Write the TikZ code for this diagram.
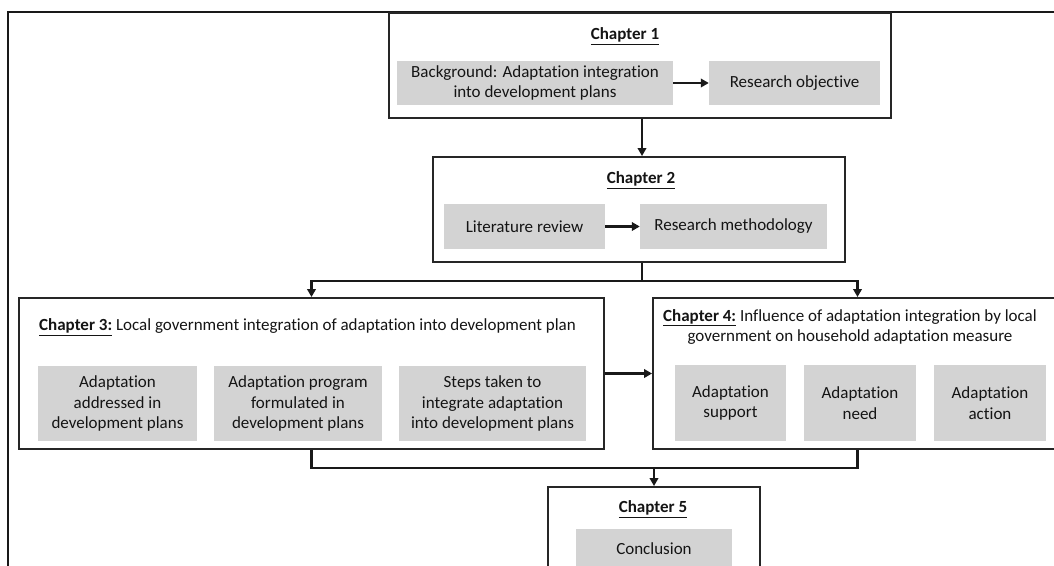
\documentclass[tikz,border=0pt]{standalone}
\usepackage{fontspec}
\setmainfont[Ligatures={NoCommon}]{Carlito}
\usetikzlibrary{arrows.meta}
\definecolor{boxgray}{HTML}{D3D3D3}
\definecolor{txt}{HTML}{141414}
\begin{document}
\begin{tikzpicture}[x=1pt,y=-1pt,
  every node/.style={font=\fontsize{17}{20.5}\selectfont, text=txt},
  chapbox/.style={draw=black!85, line width=1.9pt, inner sep=0pt, anchor=center},
  graybox/.style={fill=boxgray, inner sep=0pt, align=center, anchor=center},
  ttl/.style={font=\fontsize{17}{20.5}\selectfont\bfseries},
  conn/.style={line width=2.4pt, black!90},
  arr/.style={conn, -{Triangle[length=8pt,width=8.5pt]}}]
\useasboundingbox (0,0) rectangle (1054,565);
\clip (0,0) rectangle (1054,565);
% outer frame
\draw[line width=2.6pt, black!90] (8,12) rectangle (1080,600);
% chapter boxes
\node[chapbox, minimum width=502pt, minimum height=105pt] (ch1) at (640,65.5) {};
\node[chapbox, minimum width=412pt, minimum height=105pt] (ch2) at (639,209.5) {};
\node[chapbox, minimum width=585pt, minimum height=151pt] (ch3) at (311.5,373.5) {};
\node[chapbox, minimum width=409pt, minimum height=151pt] (ch4) at (857.5,373.5) {};
\node[chapbox, minimum width=212pt, minimum height=100pt] (ch5) at (654,537) {};
% chapter 1
\node[ttl] (t1) at (625,36) {\underline{Chapter 1}};
\node[graybox, minimum width=276pt, minimum height=44pt] (bg) at (535,83) {Background: Adaptation integration\\into development plans};
\node[graybox, minimum width=171pt, minimum height=44pt] (ro) at (794.5,83) {Research objective};
% chapter 2
\node[ttl] (t2) at (641,180) {\underline{Chapter 2}};
\node[graybox, minimum width=161pt, minimum height=45pt] (lr) at (524.5,226.5) {Literature review};
\node[graybox, minimum width=187pt, minimum height=45pt] (rm) at (733.5,226.5) {Research methodology};
% chapter 3
\node[anchor=west, inner sep=0pt] (t3) at (39,327) {\textbf{\underline{Chapter 3:}} Local government integration of adaptation into development plan};
\node[graybox, minimum width=159pt, minimum height=75pt] (a1) at (117.5,403.5) {Adaptation\\addressed in\\development plans};
\node[graybox, minimum width=168pt, minimum height=75pt] (a2) at (298,403.5) {Adaptation program\\formulated in\\development plans};
\node[graybox, minimum width=187pt, minimum height=75pt] (a3) at (492.5,403.5) {Steps taken to\\integrate adaptation\\into development plans};
% chapter 4
\node[align=center, inner sep=0pt] (t4) at (850,327) {\textbf{\underline{Chapter 4:}} Influence of adaptation integration by local\\government on household adaptation measure};
\node[graybox, minimum width=111pt, minimum height=76pt] (b1) at (730.5,403) {Adaptation\\support};
\node[graybox, minimum width=112pt, minimum height=76pt] (b2) at (860,403) {Adaptation\\need};
\node[graybox, minimum width=112pt, minimum height=76pt] (b3) at (990,403) {Adaptation\\action};
% chapter 5
\node[ttl] (t5) at (653,509) {\underline{Chapter 5}};
\node[graybox, minimum width=156pt, minimum height=40pt] (cc) at (654,549) {Conclusion};
% connectors
\draw[arr] (bg) -- (ro);
\draw[arr] (lr) -- (rm);
\draw[arr] (ch1.south -| 642,0) -- (ch2.north -| 642,0);
\coordinate (j1) at (642,281);
\draw[conn] (ch2.south -| j1) -- (j1);
\draw[arr] (j1) -| (ch3.north);
\draw[arr] (j1) -| (ch4.north);
\draw[arr] (ch3.east) -- (ch4.west);
\coordinate (j2) at (654,468);
\draw[conn] (ch3.south) |- (j2) -| (ch4.south);
\draw[arr] (j2) -- (ch5.north);
\end{tikzpicture}
\end{document}
